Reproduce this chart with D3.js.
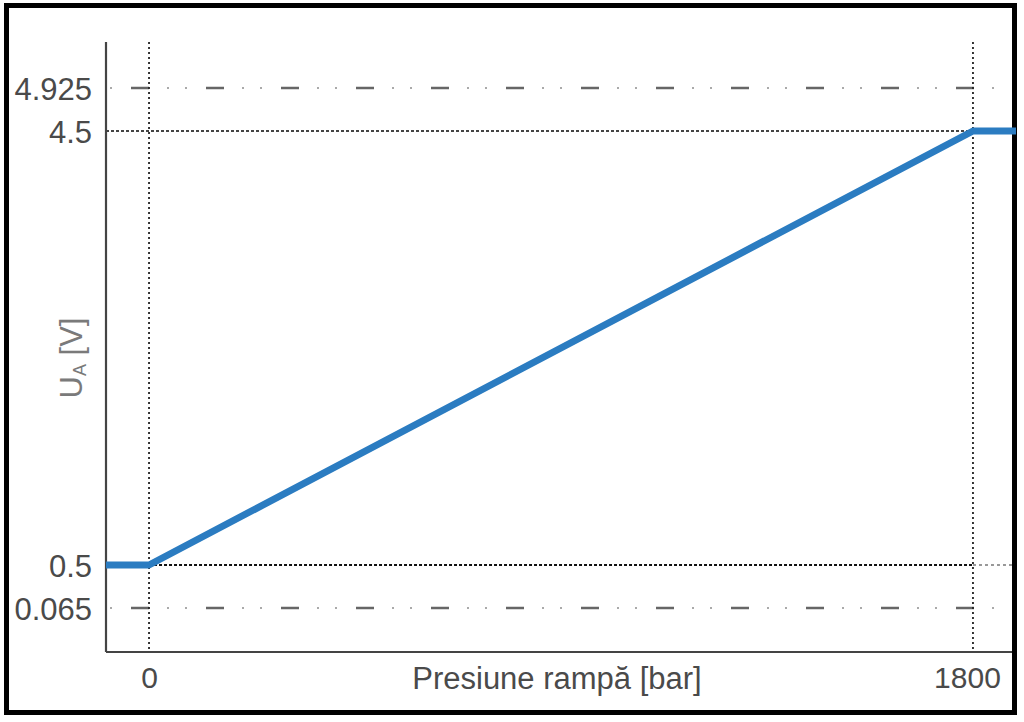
<!DOCTYPE html>
<html>
<head>
<meta charset="utf-8">
<script src="https://cdn.jsdelivr.net/npm/d3@7"></script>
<style>
  html, body { margin: 0; padding: 0; background: #fff; }
  svg { display: block; }
  text { font-family: "Liberation Sans", Arial, sans-serif; }
</style>
</head>
<body>
<svg id="chart" width="1024" height="722"></svg>
<script>
// ---- data ----
const pressure = [-94, 0, 1800, 1894];      // bar
const voltage  = [0.5, 0.5, 4.5, 4.5];      // V
const xTicks = [0, 1800];
const yTicks = [0.065, 0.5, 4.5, 4.925];
const yTickLabels = ["0.065", "0.5", "4.5", "4.925"];
const limitLines = [4.925, 0.065];          // dash-dot limits
const refLines = [4.5, 0.5];                // dotted reference
const xLabel = "Presiune rampă [bar]";

// ---- layout ----
const svg = d3.select("#chart");
const axisX = 106, axisBottom = 652, axisTop = 42, rightEdge = 1012;

const x = d3.scaleLinear().domain([-94, 1894]).range([axisX, 1016]);
const y = d3.scaleLinear().domain(yTicks).range([608, 565, 131, 88]);

// outer frame
svg.append("rect").attr("x", 6.5).attr("y", 5.5).attr("width", 1008).attr("height", 707)
  .attr("fill", "none").attr("stroke", "#000").attr("stroke-width", 5);

// dash-dot limit lines: long dashes darker, dots lighter
limitLines.forEach(v => {
  svg.append("line")
    .attr("x1", axisX + 25).attr("x2", rightEdge - 2)
    .attr("y1", y(v)).attr("y2", y(v))
    .attr("stroke", "#666").attr("stroke-width", 2.3)
    .attr("stroke-dasharray", "18,57");
  svg.append("line")
    .attr("x1", axisX + 4).attr("x2", rightEdge - 2)
    .attr("y1", y(v)).attr("y2", y(v))
    .attr("stroke", "#aaa").attr("stroke-width", 2)
    .attr("stroke-dasharray", "2,55,2,16");
});

// dotted reference lines
svg.append("line")
  .attr("x1", axisX).attr("x2", x(1800))
  .attr("y1", y(refLines[0])).attr("y2", y(refLines[0]))
  .attr("stroke", "#444").attr("stroke-width", 1.8).attr("stroke-dasharray", "3,2");
svg.append("line")
  .attr("x1", x(0)).attr("x2", x(1800))
  .attr("y1", y(refLines[1])).attr("y2", y(refLines[1]))
  .attr("stroke", "#111").attr("stroke-width", 1.8).attr("stroke-dasharray", "3,2");
svg.append("line")
  .attr("x1", x(1800)).attr("x2", rightEdge)
  .attr("y1", y(refLines[1])).attr("y2", y(refLines[1]))
  .attr("stroke", "#777").attr("stroke-width", 1.6).attr("stroke-dasharray", "3,3");

// dotted verticals
xTicks.forEach(t => {
  svg.append("line")
    .attr("x1", x(t)).attr("x2", x(t))
    .attr("y1", axisTop).attr("y2", axisBottom)
    .attr("stroke", "#222").attr("stroke-width", 1.8).attr("stroke-dasharray", "2,3");
});

// axes lines
svg.append("line").attr("x1", axisX).attr("x2", axisX).attr("y1", axisTop).attr("y2", axisBottom)
  .attr("stroke", "#444").attr("stroke-width", 2.2);
svg.append("line").attr("x1", axisX).attr("x2", rightEdge).attr("y1", axisBottom).attr("y2", axisBottom)
  .attr("stroke", "#444").attr("stroke-width", 2.2);

// y axis labels
const yAxis = d3.axisLeft(y).tickValues(yTicks)
  .tickFormat((d, i) => yTickLabels[i]).tickSize(0).tickPadding(14);
const gy = svg.append("g").attr("transform", `translate(${axisX},0)`).call(yAxis);
gy.select(".domain").remove();
gy.selectAll("text").attr("font-size", 31).attr("fill", "#4a4a4a")
  .attr("font-family", "Liberation Sans, Arial, sans-serif").attr("dy", "0.36em");

// x axis labels
const xAxis = d3.axisBottom(x).tickValues(xTicks).tickFormat(d3.format("d")).tickSize(0).tickPadding(14);
const gx = svg.append("g").attr("transform", `translate(0,${axisBottom})`).call(xAxis);
gx.select(".domain").remove();
gx.selectAll("text").attr("font-size", 30).attr("fill", "#4a4a4a")
  .attr("font-family", "Liberation Sans, Arial, sans-serif").attr("dy", "0.72em");
gx.selectAll(".tick").filter(d => d === 1800).select("text").attr("dx", -6);

// x label
svg.append("text").attr("x", 557).attr("y", 689).attr("text-anchor", "middle")
  .attr("font-size", 31).attr("fill", "#4a4a4a").text(xLabel);

// y label
const yl = svg.append("text").attr("transform", "translate(82,358) rotate(-90)")
  .attr("text-anchor", "middle").attr("font-size", 31).attr("fill", "#7a7a7a");
yl.append("tspan").text("U");
yl.append("tspan").attr("font-size", 18).attr("dy", 4).text("A");
yl.append("tspan").attr("dy", -4).text(" [V]");

// main characteristic line
const line = d3.line().x((d, i) => x(pressure[i])).y(d => y(d));
svg.append("path").datum(voltage).attr("d", line)
  .attr("fill", "none").attr("stroke", "#2b7cc1").attr("stroke-width", 7)
  .attr("stroke-linejoin", "round");
</script>
</body>
</html>
